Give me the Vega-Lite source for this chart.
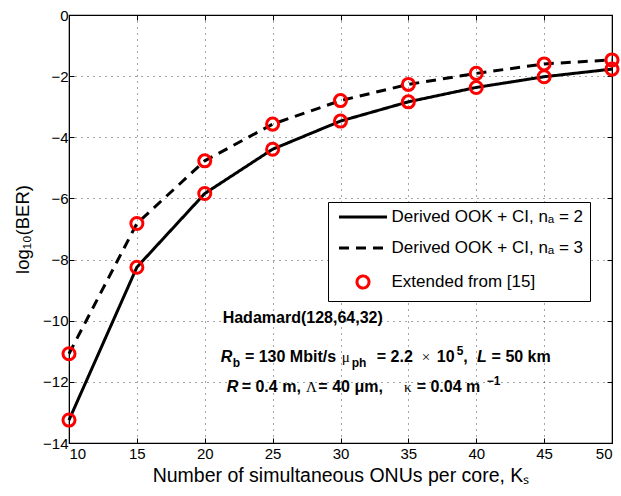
{
  "$schema": "https://vega.github.io/schema/vega-lite/v6.json",
  "width": 543,
  "height": 428,
  "autosize": {"type": "none"},
  "padding": {"left": 69, "top": 15, "right": 9, "bottom": 53},
  "background": "white",
  "config": {
    "font": "Liberation Sans",
    "view": {"stroke": "black", "strokeWidth": 1.2},
    "axis": {
      "labelFont": "Liberation Sans",
      "titleFont": "Liberation Sans",
      "labelColor": "black",
      "titleColor": "black",
      "titleFontWeight": "normal",
      "labelFontSize": 15,
      "titleFontSize": 18.5,
      "domainColor": "black",
      "tickColor": "black",
      "grid": true,
      "gridColor": "black",
      "gridDash": [1, 5],
      "gridOpacity": 0.7,
      "tickSize": -5
    }
  },
  "datasets": {
    "ber": [
      {"k": 10, "ber": -13.25, "s": "Derived OOK + CI, nₐ = 2"},
      {"k": 15, "ber": -8.25, "s": "Derived OOK + CI, nₐ = 2"},
      {"k": 20, "ber": -5.84, "s": "Derived OOK + CI, nₐ = 2"},
      {"k": 25, "ber": -4.39, "s": "Derived OOK + CI, nₐ = 2"},
      {"k": 30, "ber": -3.47, "s": "Derived OOK + CI, nₐ = 2"},
      {"k": 35, "ber": -2.84, "s": "Derived OOK + CI, nₐ = 2"},
      {"k": 40, "ber": -2.37, "s": "Derived OOK + CI, nₐ = 2"},
      {"k": 45, "ber": -2.02, "s": "Derived OOK + CI, nₐ = 2"},
      {"k": 50, "ber": -1.77, "s": "Derived OOK + CI, nₐ = 2"},
      {"k": 10, "ber": -11.08, "s": "Derived OOK + CI, nₐ = 3"},
      {"k": 15, "ber": -6.82, "s": "Derived OOK + CI, nₐ = 3"},
      {"k": 20, "ber": -4.77, "s": "Derived OOK + CI, nₐ = 3"},
      {"k": 25, "ber": -3.57, "s": "Derived OOK + CI, nₐ = 3"},
      {"k": 30, "ber": -2.8, "s": "Derived OOK + CI, nₐ = 3"},
      {"k": 35, "ber": -2.27, "s": "Derived OOK + CI, nₐ = 3"},
      {"k": 40, "ber": -1.91, "s": "Derived OOK + CI, nₐ = 3"},
      {"k": 45, "ber": -1.6, "s": "Derived OOK + CI, nₐ = 3"},
      {"k": 50, "ber": -1.47, "s": "Derived OOK + CI, nₐ = 3"}
    ],
    "notes": [
      {"style": "bold", "x": 21.32, "y": -10.09, "t": "Hadamard(128,64,32)"},
      {"style": "italic", "x": 21.18, "y": -11.34, "t": "R"},
      {"style": "sub", "x": 22.06, "y": -11.34, "t": "b"},
      {"style": "bold", "x": 22.96, "y": -11.34, "t": "= 130 Mbit/s"},
      {"style": "greek", "x": 30.09, "y": -11.34, "t": "μ"},
      {"style": "sub", "x": 30.82, "y": -11.34, "t": "ph"},
      {"style": "bold", "x": 32.67, "y": -11.34, "t": "= 2.2"},
      {"style": "greek", "x": 35.98, "y": -11.34, "t": "×"},
      {"style": "bold", "x": 37.09, "y": -11.34, "t": "10"},
      {"style": "sup", "x": 38.56, "y": -11.34, "t": "5"},
      {"style": "bold", "x": 39.04, "y": -11.34, "t": ","},
      {"style": "italic", "x": 40.05, "y": -11.34, "t": "L"},
      {"style": "bold", "x": 41.13, "y": -11.34, "t": "= 50 km"},
      {"style": "italic", "x": 21.62, "y": -12.32, "t": "R"},
      {"style": "bold", "x": 22.72, "y": -12.32, "t": "= 0.4 m,"},
      {"style": "greek", "x": 27.46, "y": -12.32, "t": "Λ"},
      {"style": "bold", "x": 28.37, "y": -12.32, "t": "= 40 μm,"},
      {"style": "greek", "x": 34.68, "y": -12.32, "t": "κ"},
      {"style": "bold", "x": 35.61, "y": -12.32, "t": "= 0.04 m"},
      {"style": "sup", "x": 40.77, "y": -12.32, "t": "−1"}
    ]
  },
  "resolve": {"axis": {"x": "independent", "y": "independent"}},
  "layer": [
    {
      "data": {"name": "ber"},
      "mark": {"type": "line", "strokeWidth": 3},
      "encoding": {
        "x": {
          "field": "k", "type": "quantitative",
          "scale": {"domain": [10, 50], "nice": false},
          "axis": {"orient": "bottom", "values": [10, 15, 20, 25, 30, 35, 40, 45, 50], "labelPadding": 8, "title": "Number of simultaneous ONUs per core, Kₛ", "titleFontSize": 19.5, "titlePadding": 5}
        },
        "y": {
          "field": "ber", "type": "quantitative",
          "scale": {"domain": [-14, 0], "nice": false},
          "axis": {"orient": "left", "values": [-14, -12, -10, -8, -6, -4, -2, 0], "labelPadding": 6, "title": "log₁₀(BER)", "titlePadding": 10}
        },
        "color": {
          "field": "s", "type": "nominal",
          "scale": {"domain": ["Derived OOK + CI, nₐ = 2", "Derived OOK + CI, nₐ = 3", "Extended from [15]"], "range": ["black", "black", "red"]},
          "legend": {
            "orient": "none",
            "legendX": 259,
            "legendY": 187,
            "title": null,
            "padding": 6.5,
            "rowPadding": 13,
            "strokeColor": "black",
            "fillColor": "white",
            "labelFont": "Liberation Sans",
            "labelFontSize": 17,
            "labelColor": "black",
            "labelLimit": 400,
            "symbolSize": 144,
            "symbolStrokeWidth": 3,
            "labelOffset": 20,
            "symbolOffset": 20,
            "encode": {
              "symbols": {
                "update": {
                  "shape": [{"test": "datum.value === 'Extended from [15]'", "value": "circle"}, {"value": "M-4,0H4"}],
                  "stroke": [{"test": "datum.value === 'Extended from [15]'", "value": "red"}, {"value": "black"}],
                  "strokeDash": [{"test": "datum.value === 'Derived OOK + CI, nₐ = 3'", "value": [10, 7]}, {"value": [1, 0]}],
                  "fill": {"value": "transparent"},
                  "strokeWidth": {"value": 3},
                  "opacity": {"value": 1}
                }
              }
            }
          }
        },
        "strokeDash": {
          "field": "s", "type": "nominal",
          "scale": {"domain": ["Derived OOK + CI, nₐ = 2", "Derived OOK + CI, nₐ = 3"], "range": [[1, 0], [10, 7]]},
          "legend": null
        }
      }
    },
    {
      "data": {"name": "ber"},
      "mark": {"type": "point", "shape": "circle", "filled": false, "size": 145, "strokeWidth": 3, "opacity": 1},
      "encoding": {
        "x": {"field": "k", "type": "quantitative", "axis": {"orient": "top", "values": [10, 15, 20, 25, 30, 35, 40, 45, 50], "labels": false, "grid": false, "title": null}},
        "y": {"field": "ber", "type": "quantitative", "axis": {"orient": "right", "values": [-14, -12, -10, -8, -6, -4, -2, 0], "labels": false, "grid": false, "title": null}},
        "color": {"datum": "Extended from [15]"}
      }
    },
    {
      "data": {"name": "notes"},
      "transform": [{"filter": "datum.style === 'bold'"}],
      "mark": {"type": "text", "align": "left", "baseline": "alphabetic", "fontSize": 16, "fontWeight": "bold", "font": "Liberation Sans", "color": "black"},
      "encoding": {
        "x": {"field": "x", "type": "quantitative", "axis": null},
        "y": {"field": "y", "type": "quantitative", "axis": null},
        "text": {"field": "t"}
      }
    },
    {
      "data": {"name": "notes"},
      "transform": [{"filter": "datum.style === 'italic'"}],
      "mark": {"type": "text", "align": "left", "baseline": "alphabetic", "fontSize": 16, "fontWeight": "bold", "fontStyle": "italic", "font": "Liberation Sans", "color": "black"},
      "encoding": {
        "x": {"field": "x", "type": "quantitative", "axis": null},
        "y": {"field": "y", "type": "quantitative", "axis": null},
        "text": {"field": "t"}
      }
    },
    {
      "data": {"name": "notes"},
      "transform": [{"filter": "datum.style === 'greek'"}],
      "mark": {"type": "text", "align": "left", "baseline": "alphabetic", "fontSize": 15, "fontWeight": "normal", "font": "Liberation Serif", "color": "black"},
      "encoding": {
        "x": {"field": "x", "type": "quantitative", "axis": null},
        "y": {"field": "y", "type": "quantitative", "axis": null},
        "text": {"field": "t"}
      }
    },
    {
      "data": {"name": "notes"},
      "transform": [{"filter": "datum.style === 'sub'"}],
      "mark": {"type": "text", "align": "left", "baseline": "alphabetic", "dy": 5, "fontSize": 12, "fontWeight": "bold", "font": "Liberation Sans", "color": "black"},
      "encoding": {
        "x": {"field": "x", "type": "quantitative", "axis": null},
        "y": {"field": "y", "type": "quantitative", "axis": null},
        "text": {"field": "t"}
      }
    },
    {
      "data": {"name": "notes"},
      "transform": [{"filter": "datum.style === 'sup'"}],
      "mark": {"type": "text", "align": "left", "baseline": "alphabetic", "dy": -7, "fontSize": 12, "fontWeight": "bold", "font": "Liberation Sans", "color": "black"},
      "encoding": {
        "x": {"field": "x", "type": "quantitative", "axis": null},
        "y": {"field": "y", "type": "quantitative", "axis": null},
        "text": {"field": "t"}
      }
    }
  ]
}
